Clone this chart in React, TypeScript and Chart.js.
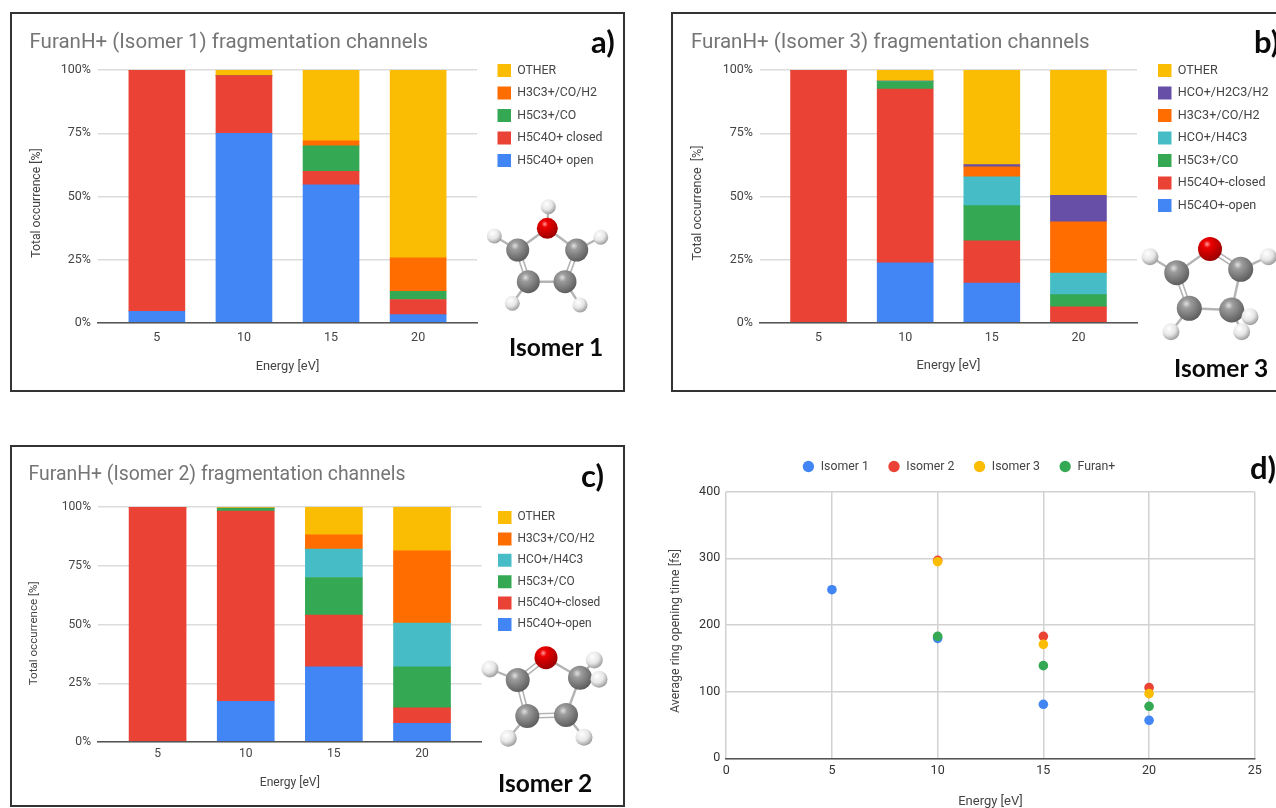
import React, { useEffect, useRef } from "react";
import { Chart, registerables } from "chart.js";

Chart.register(...registerables);

// ---------- data ----------
const energies = [5, 10, 15, 20];

const isomer1Open = [4.6, 75, 54.6, 3.3];
const isomer1Closed = [95.4, 22.8, 5.3, 6];
const isomer1H5C3 = [0, 0, 10.1, 3.2];
const isomer1H3C3 = [0, 0, 2, 13.3];
const isomer1Other = [0, 2.2, 28, 74.2];

const isomer3Open = [0, 23.8, 15.8, 0];
const isomer3Closed = [100, 68.7, 16.7, 6.4];
const isomer3H5C3 = [0, 2.9, 13.9, 4.8];
const isomer3HCO = [0, 0.2, 11.4, 8.5];
const isomer3H3C3 = [0, 0, 3.9, 20.3];
const isomer3H2C3 = [0, 0, 0.9, 10.5];
const isomer3Other = [0, 4.4, 37.4, 49.5];

const isomer2Open = [0, 17.3, 32, 7.9];
const isomer2Closed = [100, 81, 22, 6.6];
const isomer2H5C3 = [0, 1.1, 16, 17.5];
const isomer2HCO = [0, 0.1, 12.1, 18.6];
const isomer2H3C3 = [0, 0, 6.1, 30.7];
const isomer2Other = [0, 0.5, 11.8, 18.7];

const ringEnergies1 = [5, 10, 15, 20];
const ringEnergies = [10, 15, 20];
const ringIsomer1 = [253, 180, 81, 57];
const ringIsomer2 = [297, 183, 106];
const ringIsomer3 = [295, 171, 97];
const ringFuran = [183, 139, 78];

// ---------- styles ----------
const BLUE = "#4285f4";
const RED = "#ea4335";
const GREEN = "#34a853";
const YELLOW = "#fbbc04";
const ORANGE = "#ff6d01";
const TEAL = "#46bdc6";
const PURPLE = "#674ea7";
const GRID = "#dcdcdc";
const AXIS = "#555555";
const TEXT = "#444444";
const FONT = "Roboto";

const pts = (xs: number[], ys: number[]) => xs.map((x, i) => ({ x, y: ys[i] }));

type Box = {
  left: number; top: number; width: number; height: number;
  plotLeft: number; plotRight: number; plotTop: number; plotBottom: number;
  legendX: number; legendY: number; legendPad: number;
  titleX?: number; titleY?: number; titleSize?: number;
  yTitleShift: number; yTitlePad: number;
  legendFont: number; tickFont: number; xTitleFont: number; yTitleFont: number;
  tickPad: number; xTitlePad: number;
};

function pinPlugin(b: Box, horizontalLegend: boolean) {
  return {
    id: "pin",
    beforeLayout(chart: any) {
      const lg = chart.legend;
      if (lg && !lg.__pinned) {
        lg.__pinned = true;
        const fit = lg.fit;
        lg.fit = function () {
          fit.call(this);
          if (horizontalLegend) this.height = b.plotTop;
          else this.width = b.width - b.plotRight;
        };
      }
    },
    afterLayout(chart: any) {
      const lg = chart.legend;
      const item = Math.max(b.legendFont, lg.options.labels.boxHeight);
      lg.left = b.legendX - b.left - b.legendPad;
      lg.top = b.legendY - b.top - b.legendPad - item / 2;
      if (chart.titleBlock && b.titleX !== undefined) chart.titleBlock.left = b.titleX - b.left;
      const y = chart.scales.y;
      if (!y.__shifted) {
        y.__shifted = true;
        const draw = y.drawTitle;
        y.drawTitle = function () {
          const { top, bottom } = this;
          this.top = top + b.yTitleShift;
          this.bottom = bottom + b.yTitleShift;
          draw.call(this);
          this.top = top;
          this.bottom = bottom;
        };
      }
    },
  };
}

function barConfig(b: Box, title: string, yTitle: string, barSize: number, sets: any[]) {
  const lh = (b.titleSize as number) * 1.2;
  const padTop = (b.titleY as number) - b.top - lh / 2;
  return {
    type: "bar",
    data: {
      datasets: sets.map((s) => ({
        label: s.label,
        data: pts(energies, s.data),
        backgroundColor: s.color,
        borderWidth: 0,
        barThickness: barSize,
      })),
    },
    plugins: [pinPlugin(b, false)],
    options: {
      animation: false,
      responsive: false,
      events: [],
      layout: { padding: 0 },
      plugins: {
        tooltip: { enabled: false },
        title: {
          display: true,
          text: title,
          align: "start",
          color: "#757575",
          font: { family: FONT, size: b.titleSize, weight: "normal" },
          padding: { top: padTop, bottom: b.plotTop - padTop - lh },
        },
        legend: {
          position: "right",
          align: "start",
          reverse: true,
          labels: {
            boxWidth: 13.5,
            boxHeight: 13,
            padding: b.legendPad,
            color: TEXT,
            font: { family: FONT, size: b.legendFont },
          },
        },
      },
      scales: {
        x: {
          type: "linear",
          stacked: true,
          offset: false,
          min: 5 - 3.38,
          max: 20 + 3.38,
          afterBuildTicks: (ax: any) => {
            ax.ticks = energies.map((value) => ({ value }));
          },
          afterFit: (s: any) => {
            s.height = b.height - b.plotBottom;
          },
          grid: { display: false, drawTicks: false, offset: false },
          border: { display: true, color: AXIS, width: 1.5, z: 1 },
          ticks: {
            color: TEXT,
            padding: b.tickPad,
            maxRotation: 0,
            font: { family: FONT, size: b.tickFont },
            callback: (v: number) => String(v),
          },
          title: {
            display: true,
            text: "Energy [eV]",
            color: TEXT,
            font: { family: FONT, size: b.xTitleFont },
            padding: { top: 0, bottom: b.xTitlePad },
          },
        },
        y: {
          stacked: true,
          min: 0,
          max: 100,
          afterFit: (s: any) => {
            s.width = b.plotLeft;
          },
          grid: { color: GRID, lineWidth: 1.5, drawTicks: false },
          border: { display: false },
          ticks: {
            stepSize: 25,
            color: TEXT,
            padding: 7,
            font: { family: FONT, size: b.tickFont },
            callback: (v: number) => v + "%",
          },
          title: {
            display: true,
            text: yTitle,
            color: TEXT,
            font: { family: FONT, size: b.yTitleFont },
            padding: { top: b.yTitlePad, bottom: 0 },
          },
        },
      },
    },
  };
}

function scatterConfig(b: Box) {
  const sets = [
    { label: "Isomer 1", xs: ringEnergies1, ys: ringIsomer1, color: BLUE },
    { label: "Isomer 2", xs: ringEnergies, ys: ringIsomer2, color: RED },
    { label: "Isomer 3", xs: ringEnergies, ys: ringIsomer3, color: YELLOW },
    { label: "Furan+", xs: ringEnergies, ys: ringFuran, color: GREEN },
  ];
  return {
    type: "scatter",
    data: {
      datasets: sets.map((s, i) => ({
        label: s.label,
        data: pts(s.xs, s.ys),
        backgroundColor: s.color,
        borderWidth: 0,
        pointRadius: 4.8,
        pointStyle: "circle",
        order: -i,
      })),
    },
    plugins: [pinPlugin(b, true)],
    options: {
      animation: false,
      responsive: false,
      events: [],
      layout: { padding: { right: b.width - b.plotRight } },
      plugins: {
        tooltip: { enabled: false },
        title: { display: false },
        legend: {
          position: "top",
          align: "start",
          labels: {
            usePointStyle: true,
            boxHeight: 8,
            padding: b.legendPad,
            color: TEXT,
            font: { family: FONT, size: b.legendFont },
            sort: (p: any, q: any) => p.datasetIndex - q.datasetIndex,
          },
        },
      },
      scales: {
        x: {
          type: "linear",
          min: 0,
          max: 25,
          afterFit: (s: any) => {
            s.height = b.height - b.plotBottom;
          },
          grid: { color: "#d2d2d2", lineWidth: 1.5, drawTicks: false },
          border: { display: true, color: AXIS, width: 1.5, z: 0 },
          ticks: { stepSize: 5, color: "#333333", padding: b.tickPad, maxRotation: 0, font: { family: FONT, size: b.tickFont } },
          title: {
            display: true,
            text: "Energy [eV]",
            color: TEXT,
            font: { family: FONT, size: b.xTitleFont },
            padding: { top: 0, bottom: b.xTitlePad },
          },
        },
        y: {
          min: 0,
          max: 400,
          afterFit: (s: any) => {
            s.width = b.plotLeft;
          },
          grid: { color: "#d2d2d2", lineWidth: 1.5, drawTicks: false },
          border: { display: false },
          ticks: { stepSize: 100, color: "#333333", padding: 6, font: { family: FONT, size: b.tickFont } },
          title: {
            display: true,
            text: "Average ring opening time [fs]",
            color: TEXT,
            font: { family: FONT, size: b.yTitleFont },
            padding: { top: b.yTitlePad, bottom: 0 },
          },
        },
      },
    },
  };
}

function Panel({ box, config }: { box: Box; config: () => any }) {
  const ref = useRef<HTMLCanvasElement>(null);
  useEffect(() => {
    const chart = new Chart(ref.current as HTMLCanvasElement, config());
    return () => chart.destroy();
  }, []);
  return (
    <canvas
      ref={ref}
      width={box.width}
      height={box.height}
      style={{ position: "absolute", left: box.left, top: box.top, width: box.width, height: box.height }}
    />
  );
}

// ---------- layout ----------
const boxA: Box = {
  left: 10, top: 12, width: 615, height: 380,
  plotLeft: 88, plotRight: 467, plotTop: 58, plotBottom: 311,
  legendX: 497.5, legendY: 70.5, legendPad: 9.5,
  titleX: 29.5, titleY: 43, titleSize: 20.5, yTitleShift: 6.5, yTitlePad: 20,
  legendFont: 12.3, tickFont: 12.5, xTitleFont: 12.8, yTitleFont: 12.2, tickPad: 7, xTitlePad: 18,
};
const boxB: Box = {
  left: 671, top: 12, width: 620, height: 380,
  plotLeft: 89, plotRight: 466, plotTop: 58, plotBottom: 311,
  legendX: 1158, legendY: 70.5, legendPad: 9.5,
  titleX: 691, titleY: 43, titleSize: 20.5, yTitleShift: 6.5, yTitlePad: 19.5,
  legendFont: 12.6, tickFont: 12.5, xTitleFont: 12.9, yTitleFont: 12.5, tickPad: 7, xTitlePad: 18,
};
const boxC: Box = {
  left: 10, top: 445, width: 615, height: 362,
  plotLeft: 88, plotRight: 471.6, plotTop: 62, plotBottom: 297,
  legendX: 498, legendY: 517.5, legendPad: 8.4,
  titleX: 28.5, titleY: 475, titleSize: 19.4, yTitleShift: 8.8, yTitlePad: 17,
  legendFont: 11.9, tickFont: 12.1, xTitleFont: 12.1, yTitleFont: 11.6, tickPad: 4.5, xTitlePad: 17,
};
const boxD: Box = {
  left: 650, top: 440, width: 626, height: 370,
  plotLeft: 76.2, plotRight: 604.8, plotTop: 51.7, plotBottom: 318.3,
  legendX: 802.25, legendY: 466.5, legendPad: 19,
  yTitleShift: 6, yTitlePad: 18.5,
  legendFont: 12.3, tickFont: 12.5, xTitleFont: 13, yTitleFont: 12.4, tickPad: 5, xTitlePad: 0,
};

const setsA = [
  { label: "H5C4O+ open", data: isomer1Open, color: BLUE },
  { label: "H5C4O+ closed", data: isomer1Closed, color: RED },
  { label: "H5C3+/CO", data: isomer1H5C3, color: GREEN },
  { label: "H3C3+/CO/H2", data: isomer1H3C3, color: ORANGE },
  { label: "OTHER", data: isomer1Other, color: YELLOW },
];
const setsB = [
  { label: "H5C4O+-open", data: isomer3Open, color: BLUE },
  { label: "H5C4O+-closed", data: isomer3Closed, color: RED },
  { label: "H5C3+/CO", data: isomer3H5C3, color: GREEN },
  { label: "HCO+/H4C3", data: isomer3HCO, color: TEAL },
  { label: "H3C3+/CO/H2", data: isomer3H3C3, color: ORANGE },
  { label: "HCO+/H2C3/H2", data: isomer3H2C3, color: PURPLE },
  { label: "OTHER", data: isomer3Other, color: YELLOW },
];
const setsC = [
  { label: "H5C4O+-open", data: isomer2Open, color: BLUE },
  { label: "H5C4O+-closed", data: isomer2Closed, color: RED },
  { label: "H5C3+/CO", data: isomer2H5C3, color: GREEN },
  { label: "HCO+/H4C3", data: isomer2HCO, color: TEAL },
  { label: "H3C3+/CO/H2", data: isomer2H3C3, color: ORANGE },
  { label: "OTHER", data: isomer2Other, color: YELLOW },
];

// ---------- molecule illustrations ----------
type Atom = [string, number, number, number];
type Bond = [number, number, number?];

const moleculeA: { atoms: Atom[]; bonds: Bond[] } = {
  atoms: [
    ["h", 548.3, 206.7, 7.5], ["h", 494.3, 236, 7.5], ["h", 600.7, 237.3, 7.5], ["h", 512.3, 303.3, 7.5], ["h", 580, 305, 7.5],
    ["c", 517.7, 250, 11.5], ["c", 576.7, 250, 11.5], ["c", 528.3, 281.7, 11.5], ["c", 565, 281.7, 11.5], ["o", 547.3, 228.3, 10.5],
  ],
  bonds: [[9, 0], [5, 1], [6, 2], [7, 3], [8, 4], [9, 5], [9, 6], [5, 7, 1], [6, 8, 1], [7, 8]],
};
const moleculeB: { atoms: Atom[]; bonds: Bond[] } = {
  atoms: [
    ["h", 1150, 256.7, 8.5], ["h", 1268.3, 256.7, 8.5], ["h", 1171, 331.7, 8.5],
    ["c", 1176.7, 272.7, 12.5], ["c", 1240.7, 269.3, 12.5], ["c", 1189.3, 308.3, 12.5], ["c", 1231.7, 310, 12.5],
    ["h", 1250, 316.7, 8.5], ["h", 1241.7, 331.7, 8.5], ["o", 1210, 249, 12],
  ],
  bonds: [[3, 0], [4, 1], [5, 2], [6, 7], [6, 8], [9, 3], [9, 4, 1], [3, 5, 1], [4, 6], [5, 6]],
};
const moleculeC: { atoms: Atom[]; bonds: Bond[] } = {
  atoms: [
    ["h", 490, 669, 8.5], ["h", 508.3, 738.3, 8.5], ["h", 584, 737.3, 8.5], ["h", 594.3, 660, 8.5],
    ["c", 517.7, 680, 12], ["c", 580, 677.7, 12], ["c", 527.3, 716, 12], ["c", 566, 715, 12],
    ["h", 599, 679.3, 8.5], ["o", 546, 657.7, 11.5],
  ],
  bonds: [[4, 0], [6, 1], [7, 2], [5, 3], [5, 8], [9, 4, 1], [9, 5], [4, 6, 1], [6, 7, 1], [5, 7]],
};

function Molecule({ atoms, bonds }: { atoms: Atom[]; bonds: Bond[] }) {
  return (
    <g>
      {bonds.map(([p, q, dbl], i) => {
        const [, x1, y1] = atoms[p];
        const [, x2, y2] = atoms[q];
        const len = Math.hypot(x2 - x1, y2 - y1);
        const nx = ((y2 - y1) / len) * 2;
        const ny = (-(x2 - x1) / len) * 2;
        return dbl ? (
          <g key={i} stroke="#b4b4b4" strokeWidth={1.6}>
            <line x1={x1 + nx} y1={y1 + ny} x2={x2 + nx} y2={y2 + ny} />
            <line x1={x1 - nx} y1={y1 - ny} x2={x2 - nx} y2={y2 - ny} />
          </g>
        ) : (
          <line key={i} x1={x1} y1={y1} x2={x2} y2={y2} stroke="#b4b4b4" strokeWidth={2.4} />
        );
      })}
      {atoms.map(([k, x, y, r], i) => (
        <circle key={i} cx={x} cy={y} r={r} fill={`url(#atom-${k})`} />
      ))}
    </g>
  );
}

const labelBase: React.CSSProperties = {
  position: "absolute",
  fontFamily: "Lato, 'Open Sans', sans-serif",
  fontWeight: 700,
  color: "#0a0a0a",
  whiteSpace: "nowrap",
  lineHeight: 1,
  transform: "translateY(-50%)",
};
const Label = ({ x, y, size, text }: { x: number; y: number; size: number; text: string }) => (
  <div style={{ ...labelBase, left: x, top: y, fontSize: size }}>{text}</div>
);

const Frame = ({ x, y, w, h }: { x: number; y: number; w: number; h: number }) => (
  <div style={{ position: "absolute", left: x, top: y, width: w, height: h, border: "2px solid #333333", boxSizing: "border-box" }} />
);

export default function App() {
  return (
    <div style={{ position: "absolute", left: 0, top: 0, width: 1276, height: 808, overflow: "hidden", background: "#ffffff" }}>
      <Panel box={boxA} config={() => barConfig(boxA, "FuranH+ (Isomer 1) fragmentation channels", "Total occurrence [%]", 56, setsA)} />
      <Panel box={boxB} config={() => barConfig(boxB, "FuranH+ (Isomer 3) fragmentation channels", "Total occurrence  [%]", 56, setsB)} />
      <Panel box={boxC} config={() => barConfig(boxC, "FuranH+ (Isomer 2) fragmentation channels", "Total occurrence [%]", 57, setsC)} />
      <Panel box={boxD} config={() => scatterConfig(boxD)} />
      <Frame x={10} y={12} w={615} h={380} />
      <Frame x={671} y={12} w={640} h={380} />
      <Frame x={10} y={445} w={615} h={362} />
      <svg width={1276} height={808} style={{ position: "absolute", left: 0, top: 0, pointerEvents: "none", filter: "blur(0.5px)" }}>
        <defs>
          <radialGradient id="atom-c" cx="38%" cy="32%" r="70%">
            <stop offset="0%" stopColor="#e0e0e0" />
            <stop offset="25%" stopColor="#9c9c9c" />
            <stop offset="100%" stopColor="#5c5c5c" />
          </radialGradient>
          <radialGradient id="atom-h" cx="38%" cy="32%" r="70%">
            <stop offset="0%" stopColor="#ffffff" />
            <stop offset="55%" stopColor="#e6e6e6" />
            <stop offset="100%" stopColor="#9a9a9a" />
          </radialGradient>
          <radialGradient id="atom-o" cx="38%" cy="30%" r="70%">
            <stop offset="0%" stopColor="#ff9a9a" />
            <stop offset="22%" stopColor="#ee0000" />
            <stop offset="100%" stopColor="#9a0000" />
          </radialGradient>
        </defs>
        <Molecule {...moleculeA} />
        <Molecule {...moleculeB} />
        <Molecule {...moleculeC} />
      </svg>
      <Label x={591} y={41} size={31} text="a)" />
      <Label x={1254} y={41} size={31} text="b)" />
      <Label x={581} y={475} size={31} text="c)" />
      <Label x={1250} y={467} size={31} text="d)" />
      <Label x={509} y={347} size={24.5} text="Isomer 1" />
      <Label x={1174} y={368} size={24.5} text="Isomer 3" />
      <Label x={498} y={783} size={24.5} text="Isomer 2" />
    </div>
  );
}
